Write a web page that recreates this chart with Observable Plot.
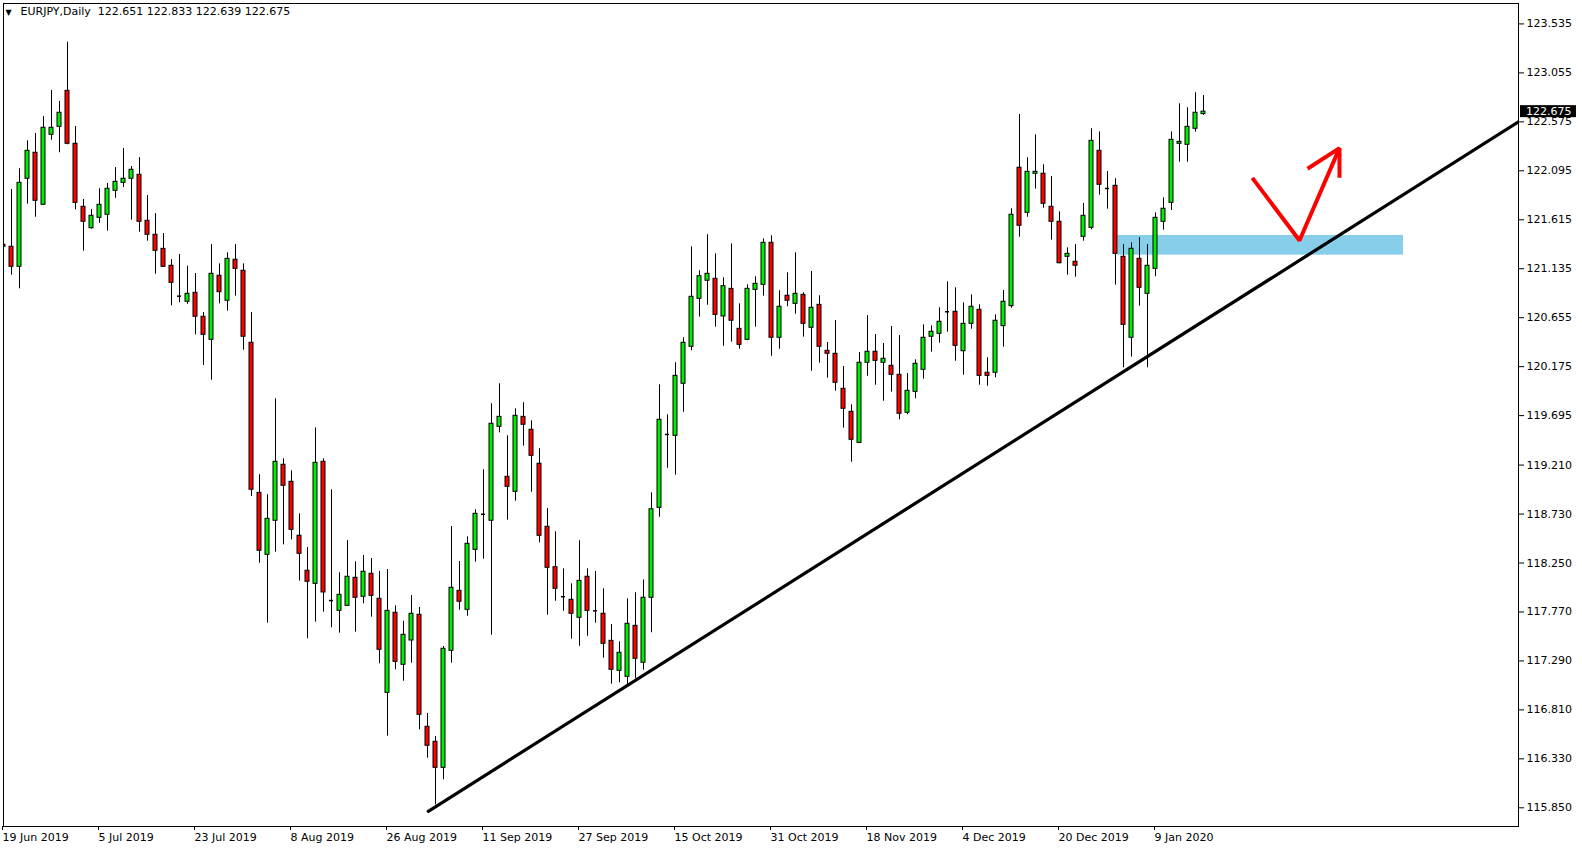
<!DOCTYPE html>
<html>
<head>
<meta charset="utf-8">
<script src="https://cdn.jsdelivr.net/npm/d3@7"></script>
<script src="https://cdn.jsdelivr.net/npm/@observablehq/plot@0.6"></script>
<style>
  html, body { margin: 0; padding: 0; background: #ffffff; }
  #chart svg { display: block; }
</style>
</head>
<body>
<div id="chart"></div>
<script>
// ---- Data (EURJPY daily) ----
const symbolTitle = "EURJPY,Daily";
const lastOHLC = [122.651, 122.833, 122.639, 122.675];

const opens = [
  121.370,121.350,121.154,122.017,122.272,121.762,122.448,122.526,122.879,122.360,
  121.742,121.532,121.634,121.664,121.899,121.977,122.017,122.056,121.605,121.468,
  121.330,121.164,120.866,120.811,120.899,120.664,120.438,121.066,120.821,121.223,
  121.115,120.409,118.938,118.330,118.664,119.213,119.046,118.517,118.174,118.046,
  119.242,117.882,117.781,117.830,118.105,117.919,118.144,117.899,116.977,117.762,
  117.252,117.490,117.742,116.644,116.497,116.242,117.389,117.977,117.791,118.379,
  118.728,118.664,119.585,119.095,118.948,119.683,119.556,119.223,118.605,118.209,
  117.919,117.889,117.713,118.115,117.781,117.752,117.487,117.193,117.134,117.634,
  117.272,117.909,118.791,119.510,119.497,120.007,120.370,120.840,121.017,121.036,
  120.667,120.938,120.546,120.438,120.928,120.977,121.389,120.458,120.870,120.791,
  120.879,120.556,120.781,120.330,120.301,119.958,119.732,119.428,120.213,120.321,
  120.213,120.183,120.095,119.723,119.928,120.144,120.468,120.497,120.713,120.713,
  120.326,120.595,120.732,120.115,120.115,120.572,120.768,122.125,121.683,122.066,
  122.066,121.742,121.595,121.252,121.203,121.448,121.536,122.291,121.922,121.948,
  121.252,120.458,121.232,120.889,121.134,121.595,121.781,122.360,122.350,122.507,
  122.651
];
const highs = [
  121.647,121.912,122.115,122.389,122.461,122.628,122.882,122.775,123.356,122.529,
  121.814,121.716,121.919,121.971,122.127,122.314,122.137,122.225,121.853,121.676,
  121.480,121.225,121.275,121.160,121.088,120.706,121.373,121.183,121.291,121.373,
  121.183,120.706,119.115,118.919,119.860,119.272,119.154,118.732,118.402,119.575,
  119.272,118.968,118.154,118.471,118.262,118.324,118.294,118.167,118.186,117.830,
  117.679,117.931,117.814,116.775,116.549,117.431,118.608,118.265,118.507,118.772,
  119.164,119.811,120.007,119.497,119.762,119.821,119.644,119.370,118.784,118.556,
  118.193,118.046,118.468,118.193,118.167,117.997,117.647,117.477,117.899,117.958,
  118.085,118.938,119.997,119.703,120.213,120.458,121.350,121.115,121.468,121.281,
  121.046,121.379,120.791,120.977,121.056,121.428,121.458,120.919,121.095,121.291,
  120.899,121.108,120.870,120.412,120.627,120.176,119.801,120.314,120.676,120.490,
  120.402,120.569,120.480,120.108,120.242,120.585,120.575,120.752,121.007,120.948,
  120.801,120.879,120.781,120.262,120.683,120.922,121.723,122.647,122.223,122.448,
  122.154,122.039,121.693,121.340,121.373,121.775,122.507,122.477,122.088,122.017,
  121.373,121.389,121.441,121.373,121.683,121.830,122.477,122.752,122.713,122.860,
  122.833
];
const lows = [
  121.167,121.072,120.938,121.768,121.640,121.755,122.395,122.272,122.350,121.713,
  121.307,121.523,121.581,121.503,121.826,121.931,121.611,121.493,121.405,121.081,
  121.150,120.772,120.801,120.787,120.487,120.186,120.042,120.791,120.719,120.866,
  120.336,118.902,118.248,117.660,118.356,118.428,118.477,118.072,117.507,117.670,
  117.768,117.615,117.562,117.825,117.572,117.850,117.719,117.262,116.552,117.203,
  117.091,117.268,116.615,116.336,115.879,116.125,117.268,117.787,117.728,118.258,
  118.287,117.542,119.526,118.670,118.856,119.395,118.944,118.448,117.738,117.875,
  117.777,117.503,117.434,117.532,117.660,117.317,117.062,117.075,117.032,117.115,
  117.199,117.566,118.699,119.179,119.111,119.728,120.330,120.660,120.777,120.562,
  120.375,120.415,120.346,120.430,120.562,120.866,120.277,120.346,120.762,120.689,
  120.464,120.130,120.209,120.062,119.934,119.572,119.238,119.420,120.081,119.993,
  119.836,119.925,119.654,119.703,119.860,120.052,120.317,120.405,120.513,120.228,
  120.091,120.542,119.993,119.983,120.066,120.366,120.748,121.444,121.640,121.915,
  121.728,121.415,121.183,121.072,121.052,121.405,121.517,121.856,121.719,120.974,
  120.164,120.268,120.768,120.164,121.056,121.513,121.706,122.179,122.179,122.474,
  122.639
];
const closes = [
  121.350,121.154,121.977,122.291,121.801,122.517,122.517,122.664,122.360,121.781,
  121.595,121.654,121.762,121.919,121.987,122.017,122.105,121.595,121.468,121.311,
  121.154,120.997,120.866,120.889,120.664,120.487,121.085,120.905,121.232,121.134,
  120.468,118.968,118.370,118.683,119.242,119.007,118.575,118.340,118.066,119.232,
  117.961,117.882,117.938,118.115,117.909,118.164,117.928,117.399,117.781,117.281,
  117.546,117.752,116.762,116.458,116.242,117.409,118.007,117.870,118.438,118.732,
  118.728,119.615,119.683,118.997,119.693,119.605,119.301,118.517,118.203,117.997,
  117.919,117.752,118.075,117.781,117.781,117.458,117.203,117.370,117.654,117.311,
  117.909,118.777,119.654,119.510,120.085,120.409,120.860,121.062,121.085,120.683,
  120.964,120.625,120.389,120.938,120.987,121.389,120.458,120.762,120.821,120.889,
  120.595,120.752,120.370,120.301,120.017,119.762,119.458,120.213,120.321,120.232,
  120.252,120.095,119.713,119.938,120.203,120.458,120.517,120.615,120.713,120.379,
  120.595,120.762,120.085,120.085,120.625,120.811,121.664,121.556,122.085,122.085,
  121.772,121.595,121.189,121.281,121.164,121.654,122.389,121.958,121.922,121.281,
  120.585,121.330,120.948,121.164,121.634,121.723,122.399,122.379,122.526,122.664,
  122.675
];

// x-axis: bar index of each date label
const dateTickBars = [0, 12, 24, 36, 48, 60, 72, 84, 96, 108, 120, 132, 144];
const dateTickLabels = ["19 Jun 2019","5 Jul 2019","23 Jul 2019","8 Aug 2019","26 Aug 2019",
  "11 Sep 2019","27 Sep 2019","15 Oct 2019","31 Oct 2019","18 Nov 2019","4 Dec 2019",
  "20 Dec 2019","9 Jan 2020"];
// y-axis price ticks
const priceTicks = [123.535,123.055,122.575,122.095,121.615,121.135,120.655,120.175,
  119.695,119.210,118.730,118.250,117.770,117.290,116.810,116.330,115.850];

// Drawn objects (in bar index / price units)
const trendBars = [53.1, 189.375];
const trendPrices = [115.815, 122.575];
const zoneBars = [139.3, 175.0];
const zonePrices = [121.268, 121.461];
const arrowBars = [156.1, 162.0, 167.0];
const arrowPrices = [122.026, 121.412, 122.317];
const arrowHeadBars = [163.0, 167.0, 167.0];
const arrowHeadPrices = [122.115, 122.317, 122.026];

// ---- Build tables ----
const candles = opens.map((o, i) => ({i, o, h: highs[i], l: lows[i], c: closes[i]}));
const bodies = candles.filter(d => d.o !== d.c);
const dojis = candles.filter(d => d.o === d.c);
const trend = trendBars.map((b, k) => ({b, p: trendPrices[k]}));
const zone = [{x1: zoneBars[0], x2: zoneBars[1], y1: zonePrices[0], y2: zonePrices[1]}];
const arrow = arrowBars.map((b, k) => ({b, p: arrowPrices[k]}));
const arrowHead = arrowHeadBars.map((b, k) => ({b, p: arrowHeadPrices[k]}));
const tickLabelOf = new Map(dateTickBars.map((b, k) => [b, dateTickLabels[k]]));
const half = 0.25;

const chart = Plot.plot({
  width: 1582,
  height: 850,
  marginLeft: 3,
  marginRight: 64,
  marginTop: 3,
  marginBottom: 24,
  style: {fontFamily: "DejaVu Sans", fontSize: "11px", background: "#ffffff", color: "#000000"},
  x: {type: "linear", domain: [0, 189.375], axis: null},
  y: {type: "linear", domain: [115.6667, 123.7353], axis: null},
  marks: [
    Plot.rect(zone, {x1: "x1", x2: "x2", y1: "y1", y2: "y2", fill: "#87ceeb", inset: 0, clip: true}),
    Plot.ruleX(candles, {x: "i", y1: "l", y2: "h", stroke: "#000000", strokeWidth: 1, clip: true}),
    Plot.rect(bodies, {
      x1: d => d.i - half, x2: d => d.i + half, y1: "o", y2: "c",
      fill: d => d.c > d.o ? "#00ee00" : "#ff0000",
      stroke: "#000000", strokeWidth: 1, inset: 0, clip: true
    }),
    Plot.ruleY(dojis, {y: "o", x1: d => d.i - half, x2: d => d.i + half, stroke: "#000000", strokeWidth: 1.5, clip: true}),
    Plot.line(trend, {x: "b", y: "p", stroke: "#000000", strokeWidth: 3.2, clip: true}),
    Plot.line(arrow, {x: "b", y: "p", stroke: "#ff0000", strokeWidth: 4, strokeLinejoin: "miter", strokeLinecap: "butt", curve: "linear"}),
    Plot.line(arrowHead, {x: "b", y: "p", stroke: "#ff0000", strokeWidth: 4, strokeLinejoin: "miter", strokeLinecap: "butt", curve: "linear"}),
    Plot.axisY({anchor: "right", ticks: priceTicks, tickFormat: d => d3.format(".3f")(d), tickSize: 5, tickPadding: 3, fontSize: 11, fill: "#000000"}),
    Plot.axisX({anchor: "bottom", ticks: dateTickBars, tickFormat: d => tickLabelOf.get(d), tickSize: 4, tickPadding: 3, textAnchor: "start", dx: -1, fontSize: 11, fill: "#000000"}),
    Plot.text(["\u25BC"], {frameAnchor: "top-left", textAnchor: "start", lineAnchor: "top", dx: 2, dy: 6, fontSize: 8, fill: "#000000"}),
    Plot.text([symbolTitle + "\u00a0 " + lastOHLC.map(v => v.toFixed(3)).join(" ")], {frameAnchor: "top-left", textAnchor: "start", lineAnchor: "top", dx: 17, dy: 4, fontSize: 11, fill: "#000000"}),
    Plot.frame({stroke: "#000000", strokeWidth: 1})
  ]
});

// current price label on the right axis, positioned through the y scale
const yScale = chart.scale("y");
const lastClose = closes[closes.length - 1];
const yLast = yScale.apply(lastClose);
const svg = d3.select(chart);
const g = svg.append("g").attr("font-family", "DejaVu Sans").attr("font-size", 11).attr("text-anchor", "start");
g.append("rect").attr("x", 1520).attr("y", yLast - 6).attr("width", 56).attr("height", 12).attr("fill", "#000000");
g.append("text").attr("x", 1526).attr("y", yLast).attr("dy", "0.35em").attr("text-anchor", "start").attr("fill", "#ffffff").text(lastClose.toFixed(3));

document.getElementById("chart").appendChild(chart);
</script>
</body>
</html>
